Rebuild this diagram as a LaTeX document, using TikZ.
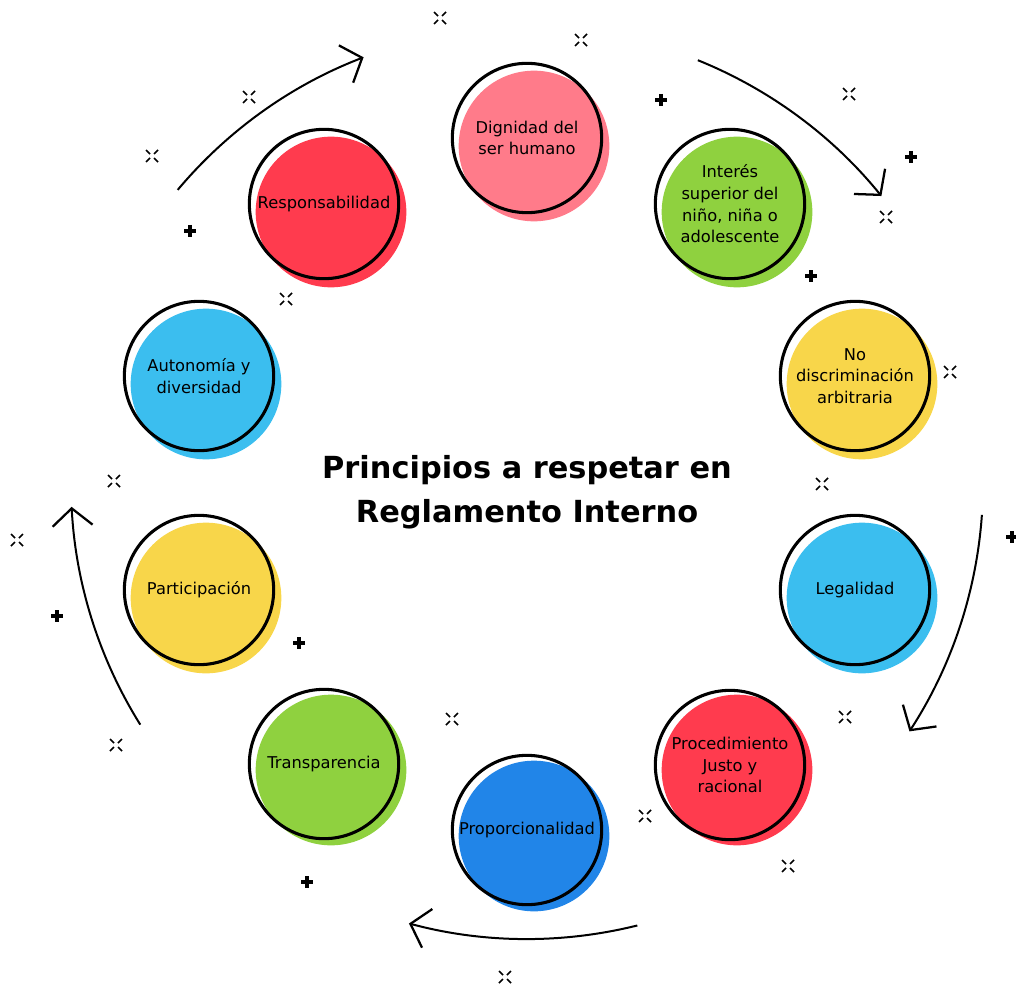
\documentclass[tikz,border=0pt]{standalone}
\usepackage{fontspec}
\setmainfont{DejaVu Sans}
\usepackage{tikz}
\usetikzlibrary{arrows.meta}
\definecolor{cRosa}{RGB}{255,123,138}
\definecolor{cVerde}{RGB}{143,209,63}
\definecolor{cAmarillo}{RGB}{248,214,74}
\definecolor{cCeleste}{RGB}{59,190,239}
\definecolor{cRojo}{RGB}{255,59,78}
\definecolor{cAzul}{RGB}{33,133,232}
\tikzstyle{princ} = [circle, draw, line width=2.3pt, minimum size=112pt, inner sep=0pt, align=center, font=\fontsize{12.2}{16.3}\selectfont]
\tikzstyle{mancha} = [circle, minimum size=113pt, inner sep=0pt]
\tikzstyle{flecha} = [line width=1.5pt, -{Straight Barb[length=13pt,width=30pt,line width=1.7pt]}]
\tikzstyle{marca} = [line width=1.2pt]
\tikzstyle{mas} = [line width=2.4pt]

\begin{document}
\begin{tikzpicture}[x=0.75pt, y=-0.75pt]
	\useasboundingbox (0,0) rectangle (1016,984);
	\coordinate (centro) at (527,483);

	% manchas de color
	\node[mancha, fill=cRosa](m-dignidad) at (534,146){};
	\node[mancha, fill=cVerde](m-interes) at (737,212){};
	\node[mancha, fill=cAmarillo](m-nodisc) at (862,384){};
	\node[mancha, fill=cCeleste](m-legalidad) at (862,598){};
	\node[mancha, fill=cRojo](m-procedimiento) at (737,770){};
	\node[mancha, fill=cAzul](m-proporcionalidad) at (534,836){};
	\node[mancha, fill=cVerde](m-transparencia) at (331,770){};
	\node[mancha, fill=cAmarillo](m-participacion) at (206,598){};
	\node[mancha, fill=cCeleste](m-autonomia) at (206,384){};
	\node[mancha, fill=cRojo](m-responsabilidad) at (331,212){};

	% principios
	\node[princ](dignidad) at (527,138){Dignidad del\\ser humano};
	\node[princ](interes) at (730,204){Interés\\superior del\\niño, niña o\\adolescente};
	\node[princ](nodisc) at (855,376){No\\discriminación\\arbitraria};
	\node[princ](legalidad) at (855,590){Legalidad};
	\node[princ](procedimiento) at (730,765){Procedimiento\\Justo y\\racional};
	\node[princ](proporcionalidad) at (527,830){Proporcionalidad};
	\node[princ](transparencia) at (324,764){Transparencia};
	\node[princ](participacion) at (199,590){Participación};
	\node[princ](autonomia) at (199,376){Autonomía y\\diversidad};
	\node[princ](responsabilidad) at (324,204){Responsabilidad};

	\node[font=\bfseries\fontsize{22.8}{33}\selectfont, align=center](titulo) at (527,492){Principios a respetar en\\Reglamento Interno};

	% flechas alrededor
	\foreach \c in {-126,-54,18,90,162}
		\draw[flecha] ([shift={(\c-14:456)}]centro) arc[start angle=\c-14, end angle=\c+15, radius=456];

	% adornos
	\foreach \x/\y in {440/18, 581/40, 849/94, 886/217, 249/97, 152/156, 286/299, 950/372, 822/484, 114/481, 17/540, 845/717, 452/719, 645/816, 788/866, 116/745, 505/977}
		\draw[marca] (\x-6,\y-6) -- (\x-2,\y-2) (\x+2,\y+2) -- (\x+6,\y+6) (\x-6,\y+6) -- (\x-2,\y+2) (\x+2,\y-2) -- (\x+6,\y-6);
	\foreach \x/\y in {661/100, 911/157, 190/231, 811/276, 1012/537, 57/616, 299/643, 307/882}
		\draw[mas] (\x-6,\y) -- (\x+6,\y) (\x,\y-6) -- (\x,\y+6);

\end{tikzpicture}
\end{document}
